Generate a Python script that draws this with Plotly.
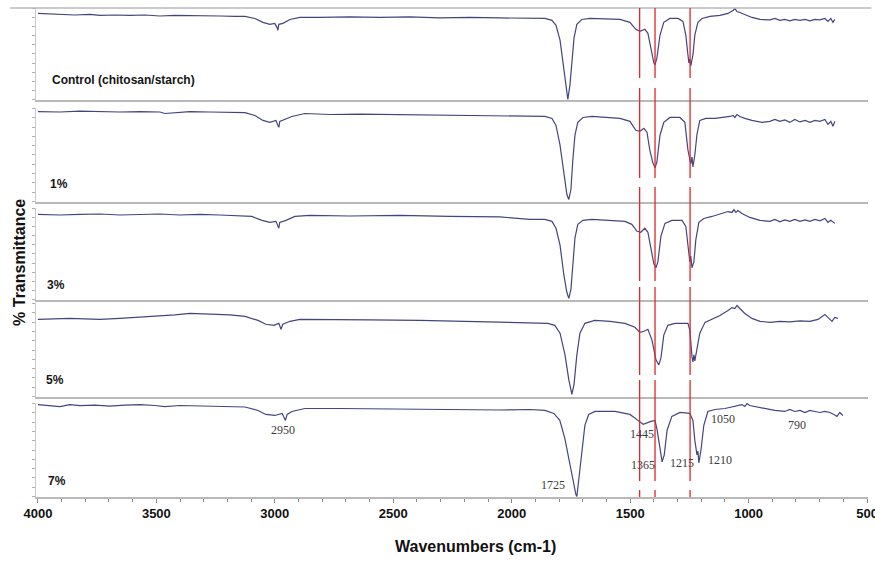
import plotly.graph_objects as go

# ---- FTIR spectra of chitosan/starch films (wavenumber in cm-1, % transmittance) ----
panel_names = ["Control (chitosan/starch)", "1%", "3%", "5%", "7%"]

wn_control = [4000, 3949, 3907, 3844, 3780, 3738, 3675, 3612, 3548, 3485,
              3422, 3358, 3295, 3232, 3168, 3126, 3084, 3050, 3021, 3000,
              2991, 2987, 2983, 2966, 2936, 2894, 2810, 2683, 2556, 2430,
              2303, 2176, 2050, 1923, 1860, 1830, 1813, 1796, 1784, 1771,
              1763, 1754, 1746, 1737, 1725, 1704, 1670, 1607, 1543, 1501,
              1476, 1459, 1438, 1425, 1412, 1400, 1395, 1387, 1374, 1358,
              1332, 1298, 1277, 1265, 1256, 1252, 1248, 1244, 1235, 1227,
              1214, 1197, 1163, 1121, 1087, 1066, 1058, 1049, 1037, 1016,
              986, 952, 910, 889, 868, 847, 826, 805, 783, 762,
              741, 720, 699, 678, 665, 653, 644, 636]
t_control = [94.6, 94.0, 93.5, 92.9, 93.5, 92.4, 92.9, 92.4, 92.9, 91.8,
             92.4, 92.4, 91.8, 91.8, 91.3, 91.3, 89.1, 84.8, 82.6, 83.7,
             79.3, 76.1, 82.6, 83.7, 88.0, 90.2, 90.2, 90.8, 90.2, 90.8,
             89.7, 90.2, 89.7, 89.1, 89.1, 87.0, 81.5, 65.2, 43.5, 16.3,
             0.0, 16.3, 43.5, 67.4, 82.6, 88.0, 89.1, 88.6, 88.0, 84.8,
             77.2, 75.0, 77.2, 72.8, 54.3, 40.2, 38.0, 45.7, 70.7, 84.8,
             89.1, 89.1, 85.9, 70.7, 48.9, 40.2, 44.6, 37.0, 48.9, 70.7,
             84.8, 89.1, 91.3, 92.4, 94.6, 97.8, 100.0, 96.7, 95.7, 93.5,
             90.2, 88.0, 87.5, 89.1, 87.0, 88.0, 86.4, 88.0, 87.0, 88.0,
             86.4, 88.0, 87.5, 89.1, 85.9, 89.1, 84.8, 88.0]

wn_1 = [4000, 3907, 3823, 3738, 3654, 3569, 3485, 3464, 3422, 3358,
        3274, 3190, 3126, 3084, 3050, 3021, 2995, 2987, 2983, 2979,
        2957, 2928, 2873, 2767, 2641, 2472, 2303, 2134, 1965, 1860,
        1830, 1813, 1796, 1780, 1767, 1759, 1750, 1742, 1733, 1721,
        1699, 1661, 1607, 1543, 1501, 1476, 1459, 1442, 1429, 1417,
        1404, 1395, 1387, 1374, 1358, 1332, 1290, 1269, 1256, 1248,
        1244, 1239, 1235, 1227, 1218, 1206, 1180, 1142, 1100, 1079,
        1066, 1058, 1049, 1037, 1016, 986, 944, 910, 889, 868,
        847, 826, 805, 783, 762, 741, 720, 699, 678, 665,
        653, 644, 636]
t_1 = [96.8, 96.3, 97.3, 96.8, 96.3, 96.8, 96.3, 94.7, 95.7, 96.8,
       96.3, 96.3, 95.7, 92.6, 87.2, 85.1, 87.2, 81.9, 79.8, 86.2,
       88.3, 91.5, 94.7, 93.6, 94.1, 93.6, 93.6, 93.1, 92.0, 91.5,
       89.4, 81.9, 60.6, 28.7, 7.4, 2.1, 12.8, 44.7, 71.3, 85.1,
       90.4, 91.5, 90.4, 89.4, 86.2, 76.6, 75.5, 78.7, 74.5, 55.3,
       41.5, 36.2, 42.6, 71.3, 85.1, 90.4, 90.4, 85.1, 55.3, 46.8,
       40.4, 47.9, 37.2, 50.0, 72.3, 87.2, 89.4, 89.4, 90.4, 91.5,
       92.6, 90.4, 93.6, 91.5, 89.4, 87.2, 85.1, 86.2, 88.3, 86.2,
       87.8, 85.1, 88.3, 85.6, 87.2, 85.1, 87.2, 86.2, 88.3, 83.0,
       86.2, 80.9, 86.2]

wn_3 = [4000, 3907, 3823, 3738, 3654, 3569, 3485, 3401, 3316, 3232,
        3147, 3097, 3054, 3021, 2995, 2987, 2983, 2979, 2953, 2915,
        2852, 2683, 2472, 2261, 2050, 1923, 1860, 1830, 1813, 1796,
        1780, 1767, 1759, 1750, 1742, 1733, 1721, 1699, 1661, 1585,
        1522, 1493, 1471, 1455, 1438, 1425, 1412, 1400, 1391, 1383,
        1370, 1353, 1324, 1281, 1265, 1252, 1248, 1244, 1239, 1231,
        1223, 1210, 1189, 1155, 1113, 1087, 1070, 1062, 1054, 1045,
        1028, 995, 952, 910, 889, 868, 847, 826, 805, 783,
        762, 741, 720, 699, 678, 665, 653, 636]
t_3 = [93.5, 92.9, 93.5, 94.0, 92.9, 93.5, 94.0, 92.9, 93.5, 92.9,
       92.4, 91.3, 87.0, 84.8, 85.9, 80.4, 78.3, 84.8, 87.0, 91.3,
       92.4, 91.8, 92.4, 91.3, 90.8, 88.0, 88.0, 85.9, 78.3, 59.8,
       27.2, 7.6, 1.1, 10.9, 41.3, 67.4, 82.6, 87.0, 88.0, 87.0,
       85.9, 82.6, 75.0, 73.9, 78.3, 73.9, 54.3, 39.1, 34.8, 41.3,
       69.6, 83.7, 87.0, 87.0, 80.4, 54.3, 41.3, 47.8, 34.8, 41.3,
       65.2, 84.8, 89.1, 91.3, 94.6, 96.7, 95.7, 98.9, 95.7, 97.8,
       94.6, 90.2, 87.0, 85.9, 88.0, 85.3, 87.5, 85.9, 88.0, 85.9,
       87.5, 85.9, 88.0, 86.4, 89.1, 84.8, 87.0, 83.7]

wn_5 = [4000, 3928, 3865, 3802, 3738, 3654, 3569, 3485, 3422, 3358,
        3274, 3190, 3126, 3071, 3038, 3004, 2983, 2974, 2966, 2936,
        2894, 2767, 2599, 2387, 2176, 2050, 1923, 1847, 1818, 1796,
        1775, 1759, 1746, 1737, 1725, 1712, 1691, 1649, 1585, 1522,
        1480, 1459, 1442, 1425, 1408, 1391, 1379, 1370, 1358, 1341,
        1311, 1256, 1248, 1244, 1239, 1235, 1231, 1227, 1218, 1206,
        1184, 1155, 1121, 1087, 1070, 1058, 1049, 1037, 1016, 986,
        952, 910, 868, 826, 783, 741, 707, 678, 661, 648,
        636, 623]
t_5 = [83.0, 83.5, 84.0, 83.5, 83.0, 84.0, 85.1, 86.2, 87.8, 89.4,
       88.8, 87.8, 86.2, 81.9, 77.7, 76.6, 78.7, 72.3, 77.7, 80.9,
       83.0, 83.0, 82.4, 81.9, 80.9, 79.8, 79.8, 78.7, 76.6, 68.1,
       44.7, 18.1, 2.1, 12.8, 44.7, 68.1, 78.7, 81.9, 80.9, 78.7,
       74.5, 69.1, 70.2, 72.3, 60.6, 39.4, 34.0, 41.5, 66.0, 76.6,
       78.7, 78.7, 71.3, 55.3, 42.6, 37.2, 44.7, 38.3, 50.0, 68.1,
       79.8, 83.0, 87.2, 92.6, 95.7, 94.7, 97.9, 94.7, 89.4, 84.0,
       80.9, 79.8, 80.9, 80.3, 81.4, 80.9, 83.0, 88.3, 84.0, 80.9,
       85.1, 84.0]

wn_7 = [4000, 3949, 3907, 3865, 3823, 3759, 3696, 3633, 3569, 3506,
        3464, 3401, 3316, 3211, 3126, 3071, 3038, 3000, 2969, 2955,
        2948, 2928, 2873, 2725, 2556, 2387, 2219, 2050, 1923, 1860,
        1822, 1797, 1776, 1759, 1742, 1729, 1725, 1717, 1704, 1691,
        1675, 1649, 1564, 1501, 1467, 1445, 1412, 1395, 1386, 1373,
        1365, 1356, 1344, 1324, 1290, 1248, 1235, 1227, 1218, 1214,
        1210, 1201, 1189, 1172, 1142, 1100, 1058, 1028, 1016, 1007,
        995, 973, 931, 889, 847, 826, 805, 783, 762, 741,
        720, 699, 678, 657, 640, 627, 615, 602]
t_7 = [98.9, 97.9, 96.8, 98.9, 97.9, 98.4, 97.3, 98.4, 98.9, 97.9,
       96.8, 97.9, 97.3, 96.8, 96.3, 92.6, 88.3, 87.2, 89.4, 81.9,
       88.3, 91.5, 94.7, 94.7, 94.1, 93.6, 93.6, 93.1, 93.6, 92.6,
       89.4, 81.9, 62.8, 39.4, 18.1, 2.1, 0.0, 18.1, 50.0, 76.6,
       88.3, 91.5, 91.5, 88.3, 81.9, 77.7, 80.9, 81.9, 71.3, 47.9,
       37.2, 44.7, 71.3, 86.2, 90.4, 89.4, 81.9, 60.6, 44.7, 48.9,
       36.2, 50.0, 76.6, 91.5, 93.6, 94.7, 96.8, 98.9, 96.8, 100.0,
       97.9, 96.8, 94.7, 92.6, 91.5, 93.6, 91.5, 92.6, 90.4, 92.6,
       91.5, 90.4, 91.5, 90.4, 88.3, 86.2, 90.4, 87.2]

# Reference wavenumbers marked with red dashed guides
guide_wn = [1460, 1395, 1247]

# Peak assignments labelled on the 7% spectrum: (text, label wn, label T)
peak_text = ["2950", "1725", "1445", "1365", "1215", "1210", "1050", "790"]
peak_lx = [2965, 1826, 1450, 1446, 1281, 1121, 1108, 795]
peak_ly = [71.3, 12.8, 67.0, 34.0, 36.2, 39.4, 83.0, 76.6]

x_ticks = [4000, 3500, 3000, 2500, 2000, 1500, 1000, 500]

spectra = [(wn_control, t_control), (wn_1, t_1), (wn_3, t_3), (wn_5, t_5), (wn_7, t_7)]

# ---- layout geometry ----
domains = [(0.8119, 1.0), (0.6033, 0.7955), (0.4029, 0.5910), (0.2045, 0.3967), (0.0, 0.1922)]
label_pos = [(0.0169, 0.8528), (0.0144, 0.640), (0.0108, 0.4335), (0.0096, 0.2393), (0.0120, 0.0327)]

LINE = "#44457f"
FRAME = "#b9b9b9"
SANS = "Liberation Sans, Arial, sans-serif"
SERIF = "Liberation Serif, DejaVu Serif, serif"
# dash lengths (px) of the guide lines, running from the top frame down to the axis
GUIDE_DASH = "70px,10px,90px,9px,94px,6px,88px,5px,101px,9px,20px"

fig = go.Figure()
layout = dict(
    width=875, height=561,
    margin=dict(l=36, r=7, t=8, b=64),
    paper_bgcolor="white", plot_bgcolor="white",
    showlegend=False,
)

for i, (wn, tr) in enumerate(spectra, start=1):
    sfx = "" if i == 1 else str(i)
    fig.add_trace(go.Scatter(x=wn, y=tr, mode="lines",
                             line=dict(color=LINE, width=1.2),
                             xaxis="x" + sfx, yaxis="y" + sfx,
                             hoverinfo="skip"))
    xa = dict(domain=[0, 1], range=[4008, 496], anchor="y" + sfx,
              showline=True, linecolor=FRAME, linewidth=1.5,
              showgrid=False, zeroline=False, automargin=False)
    if i > 1:
        xa["matches"] = "x"
    if i < 5:
        xa.update(ticks="", showticklabels=False)
    else:
        xa.update(tickmode="array", tickvals=x_ticks, ticks="outside",
                  ticklen=4, tickcolor="#8a8a8a", tickwidth=1,
                  ticklabeloverflow="allow",
                  minor=dict(ticks="outside", dtick=100, tick0=500,
                             ticklen=3, tickcolor="#8a8a8a"),
                  tickfont=dict(family=SANS, size=13, color="#111111",
                                weight="bold"))
    ya = dict(domain=list(domains[i - 1]), range=[-0.6, 100.6],
              anchor="x" + sfx, showline=True, linecolor="#c9c9c9",
              linewidth=1, ticks="outside", ticklen=3, tickcolor="#b0b0b0",
              dtick=10, showticklabels=False, showgrid=False, zeroline=False,
              automargin=False)
    layout["xaxis" + sfx] = xa
    layout["yaxis" + sfx] = ya

fig.update_layout(**layout)

# top frame line of the uppermost panel
fig.add_shape(type="line", xref="paper", yref="paper",
              x0=-0.031, x1=1.004, y0=1.0, y1=1.0,
              line=dict(color=FRAME, width=1.5))

# red dashed guide lines through all panels
for g in guide_wn:
    fig.add_shape(type="line", xref="x", yref="paper",
                  x0=g, x1=g, y0=1.0, y1=0.0,
                  line=dict(color="#e3262b", width=1.3, dash=GUIDE_DASH),
                  layer="above")

# panel names
for name, (px, py) in zip(panel_names, label_pos):
    fig.add_annotation(text="<b>%s</b>" % name, xref="paper", yref="paper",
                       x=px, y=py, xanchor="left", yanchor="middle",
                       showarrow=False,
                       font=dict(family=SANS, size=12, color="#151515"))

# peak labels on the 7% spectrum
for txt, lx, ly in zip(peak_text, peak_lx, peak_ly):
    fig.add_annotation(text=txt, xref="x5", yref="y5", x=lx, y=ly,
                       xanchor="center", yanchor="middle", showarrow=False,
                       font=dict(family=SERIF, size=12, color="#3a3a3a"))

# axis titles
fig.add_annotation(text="<b>% Transmittance</b>", xref="paper", yref="paper",
                   x=-0.0193, y=0.4806, textangle=-90, showarrow=False,
                   xanchor="center", yanchor="middle",
                   font=dict(family=SANS, size=16, color="#111111"))
fig.add_annotation(text="<b>Wavenumbers (cm-1)</b>", xref="paper", yref="paper",
                   x=0.528, y=-0.102, showarrow=False,
                   xanchor="center", yanchor="middle",
                   font=dict(family=SANS, size=16, color="#111111"))

fig.write_html("out.html")
